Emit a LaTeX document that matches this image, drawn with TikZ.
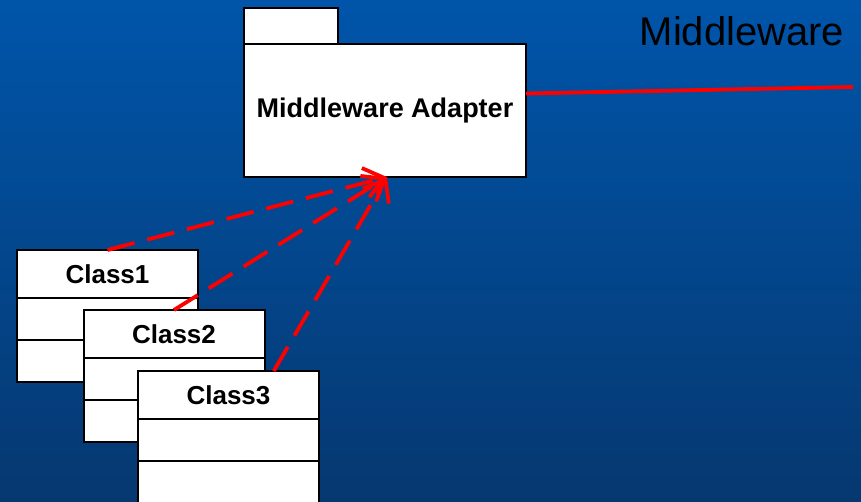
\documentclass[tikz,border=0pt]{standalone}
\usepackage{fontspec}
\setmainfont{Liberation Sans}
\usetikzlibrary{positioning,arrows.meta,calc}
\definecolor{bgtop}{RGB}{0,85,170}
\definecolor{bgbottom}{RGB}{6,56,112}
\tikzset{
  box/.style={draw=black, fill=white, line width=2pt, inner sep=0pt, outer sep=0pt},
  classhead/.style={box, minimum width=181pt, minimum height=48pt, font=\bfseries\fontsize{26}{26}\selectfont},
  classpart/.style={box, minimum width=181pt, minimum height=42pt},
  depend/.style={red, line width=3.8pt, dash pattern=on 28pt off 13pt, -{Straight Barb[length=19pt,width=30pt]}}
}
\begin{document}
\begin{tikzpicture}[x=1pt,y=-1pt]
  \shade[top color=bgtop, bottom color=bgbottom] (0,0) rectangle (861,501);
  \useasboundingbox (0,0) rectangle (861,501);

  % package
  \node[box, minimum width=94pt, minimum height=36pt] (tab) at (291,26) {};
  \node[box, minimum width=282pt, minimum height=133pt, font=\bfseries\fontsize{27}{27}\selectfont] (adapter) at (385,110.5) {Middleware Adapter};
  \node[font=\fontsize{40}{40}\selectfont] (mwlabel) at (742,31) {Middleware};
  \coordinate (mwend) at (853,87);
  \draw[red, line width=3.8pt] ([yshift=17pt]adapter.east) -- (mwend);

  % classes
  \node[classhead] (c1) at (107.5,274) {Class1};
  \node[classpart, below=0pt of c1] (c1a) {};
  \node[classpart, below=0pt of c1a] (c1b) {};

  \node[classhead] (c2) at (174,334) {Class2};
  \node[classpart, below=0pt of c2] (c2a) {};
  \node[classpart, below=0pt of c2a] (c2b) {};

  \node[classhead] (c3) at (228.5,395) {Class3};
  \node[classpart, below=0pt of c3] (c3a) {};
  \node[classpart, below=0pt of c3a] (c3b) {};

  \coordinate (tip) at ([xshift=2pt]adapter.south);
  \draw[depend] (c1.north) -- (tip);
  \draw[depend] (c2.north) -- (tip);
  \draw[depend] ($(c3.north)!0.5!(c3.north east)$) -- (tip);
\end{tikzpicture}
\end{document}
